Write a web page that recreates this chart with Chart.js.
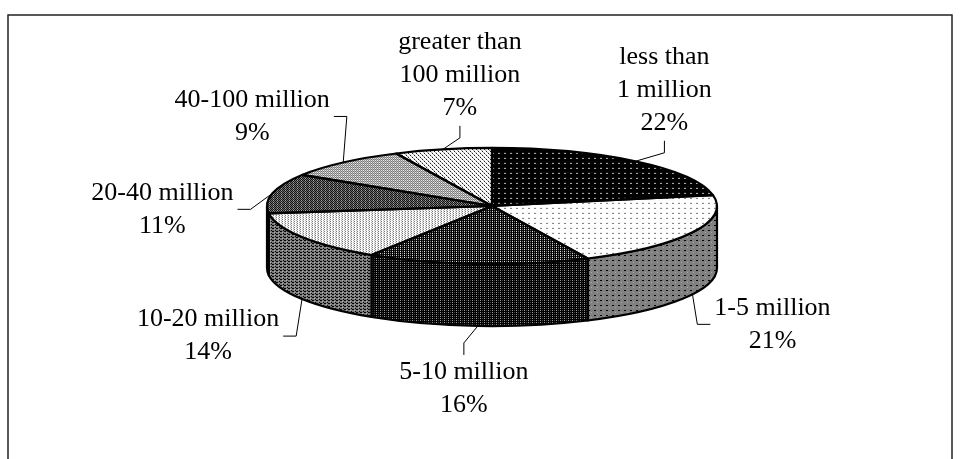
<!DOCTYPE html>
<html lang="en">
<head>
<meta charset="UTF-8">
<title>Size distribution</title>
<script src="https://cdn.jsdelivr.net/npm/chart.js"></script>
<style>
  html, body { margin: 0; padding: 0; background: #fff; }
  #wrap { width: 960px; height: 459px; position: relative; }
</style>
</head>
<body>
<div id="wrap"><canvas id="pie"></canvas></div>
<script>
  // data
  const categories = ['less than 1 million', '1-5 million', '5-10 million', '10-20 million',
    '20-40 million', '40-100 million', 'greater than 100 million'];
  const shares = [22, 21, 16, 14, 11, 9, 7];
  const labelLines = [['less than', '1 million'], ['1-5 million'], ['5-10 million'], ['10-20 million'],
    ['20-40 million'], ['40-100 million'], ['greater than', '100 million']];

  // layout / style
  const TILT = 0.258;     // ellipse height / width
  const DEPTH = 62;       // side wall height
  const labelOffsets = [[29, -71], [80, 30], [-14, 63], [-94, 37], [-110, 16], [-91, -46], [17, -74]];
  const FONT = '26px "Liberation Serif", "Times New Roman", serif';
  const LINE_H = 33;

  function tile(w, h, bg, px, squash) {
    const c = document.createElement('canvas');
    c.width = w; c.height = h;
    const g = c.getContext('2d');
    g.fillStyle = bg; g.fillRect(0, 0, w, h);
    px.forEach(([x, y, col]) => { g.fillStyle = col; g.fillRect(x, y, 1, 1); });
    const p = g.createPattern(c, 'repeat');
    if (squash) p.setTransform(new DOMMatrix().scale(1, 1 / TILT));
    return p;
  }

  function makePatterns(squash) {
    return [
      tile(6, 5, '#000', [[0, 0, '#bbb'], [1, 0, '#bbb']], squash),
      tile(6, 5, '#fff', [[0, 0, '#777'], [1, 0, '#777']], squash),
      tile(4, 2, '#000', [[0, 0, '#fff'], [2, 0, '#888']], squash),
      tile(3, 2, '#fff', [[0, 0, '#666'], [2, 1, '#aaa']], squash),
      tile(4, 2, '#808080', [[1, 0, '#000'], [3, 0, '#000'], [0, 1, '#000'], [1, 1, '#c0c0c0'], [2, 1, '#000']], squash),
      tile(2, 2, '#c0c0c0', [[1, 0, '#606060'], [0, 1, '#808080'], [1, 1, '#fff']], squash),
      tile(4, 4, '#fff', [[0, 0, '#000'], [1, 1, '#999'], [2, 2, '#000'], [3, 3, '#999']], squash)
    ];
  }
  const topPatterns = makePatterns(true);
  const sidePatterns = [
    tile(6, 5, '#000', [[0, 0, '#777']]),
    tile(6, 5, '#808080', [[0, 0, '#000'], [1, 0, '#000'], [3, 2, '#aaa']]),
    tile(4, 2, '#000', [[0, 0, '#999'], [2, 0, '#444']]),
    tile(4, 3, '#7a7a7a', [[0, 0, '#000'], [1, 0, '#000'], [2, 1, '#b0b0b0'], [3, 2, '#000']]),
    tile(4, 2, '#404040', [[1, 0, '#000'], [3, 0, '#000'], [0, 1, '#000'], [1, 1, '#808080']]),
    tile(2, 2, '#808080', [[1, 0, '#404040'], [1, 1, '#c0c0c0']]),
    tile(4, 4, '#c0c0c0', [[0, 0, '#000'], [2, 2, '#000']])
  ];

  const pie3d = {
    id: 'pie3d',
    beforeDraw(chart) {
      const ctx = chart.ctx;
      ctx.save();
      ctx.strokeStyle = '#222';
      ctx.lineWidth = 1.5;
      ctx.strokeRect(8, 15, 944, 500);
      ctx.restore();
    },
    beforeDatasetsDraw(chart) {
      const ctx = chart.ctx;
      const arcs = chart.getDatasetMeta(0).data;
      const { x: cx, y: cy, outerRadius: a } = arcs[0];
      const b = a * TILT;
      ctx.save();
      ctx.lineWidth = 2.2;
      ctx.strokeStyle = '#000';
      ctx.lineJoin = 'round';
      arcs.forEach((arc, i) => {
        for (const off of [-2 * Math.PI, 0, 2 * Math.PI]) {
          const lo = Math.max(arc.startAngle, off);
          const hi = Math.min(arc.endAngle, off + Math.PI);
          if (hi <= lo) continue;
          ctx.beginPath();
          ctx.ellipse(cx, cy, a, b, 0, lo, hi);
          ctx.ellipse(cx, cy + DEPTH, a, b, 0, hi, lo, true);
          ctx.closePath();
          ctx.fillStyle = sidePatterns[i];
          ctx.fill();
          ctx.stroke();
        }
      });
      ctx.restore();
      ctx.save();
      ctx.translate(cx, cy);
      ctx.scale(1, TILT);
      ctx.translate(-cx, -cy);
    },
    afterDatasetsDraw(chart) {
      const ctx = chart.ctx;
      ctx.restore();
      const arcs = chart.getDatasetMeta(0).data;
      const { x: cx, y: cy, outerRadius: a } = arcs[0];
      const b = a * TILT;
      ctx.save();
      ctx.lineWidth = 2.2;
      ctx.strokeStyle = '#000';
      ctx.lineJoin = 'round';
      arcs.forEach(arc => {
        ctx.beginPath();
        ctx.moveTo(cx, cy);
        ctx.ellipse(cx, cy, a, b, 0, arc.startAngle, arc.endAngle);
        ctx.closePath();
        ctx.stroke();
      });

      // labels + leader lines
      ctx.font = FONT;
      ctx.fillStyle = '#000';
      ctx.textAlign = 'center';
      ctx.textBaseline = 'middle';
      ctx.lineWidth = 1;
      arcs.forEach((arc, i) => {
        const m = (arc.startAngle + arc.endAngle) / 2;
        const ax = cx + a * Math.cos(m);
        const ay = cy + b * Math.sin(m) + (Math.sin(m) > 0 ? DEPTH : 0);
        const lines = labelLines[i].concat([shares[i] + '%']);
        const lx = ax + labelOffsets[i][0];
        const ly = ay + labelOffsets[i][1];
        const w = Math.max(...lines.map(t => ctx.measureText(t).width));
        const half = lines.length * LINE_H / 2 - 3;
        lines.forEach((t, j) => {
          ctx.fillText(t, lx, ly + (j - (lines.length - 1) / 2) * LINE_H);
        });
        const l = lx - w / 2, r = lx + w / 2, t = ly - half, bt = ly + half;
        ctx.beginPath();
        if (ax < l || ax > r) {
          const sx = ax < l ? l - 4 : r + 4;
          const ex = ax < l ? sx - 13 : sx + 13;
          ctx.moveTo(sx, ly); ctx.lineTo(ex, ly);
        } else if (ay > bt) {
          ctx.moveTo(lx, bt + 4); ctx.lineTo(lx, bt + 16);
        } else {
          ctx.moveTo(lx, t - 4); ctx.lineTo(lx, t - 16);
        }
        ctx.lineTo(ax, ay);
        ctx.stroke();
      });
      ctx.restore();
    }
  };

  new Chart(document.getElementById('pie'), {
    type: 'pie',
    data: {
      labels: categories,
      datasets: [{
        data: shares,
        backgroundColor: topPatterns,
        borderWidth: 0,
        clip: false
      }]
    },
    options: {
      responsive: true,
      maintainAspectRatio: false,
      animation: false,
      radius: 225,
      layout: { padding: { left: 24, right: 0, top: 0, bottom: 47 } },
      events: [],
      plugins: {
        legend: { display: false },
        tooltip: { enabled: false }
      }
    },
    plugins: [pie3d]
  });
</script>
</body>
</html>
